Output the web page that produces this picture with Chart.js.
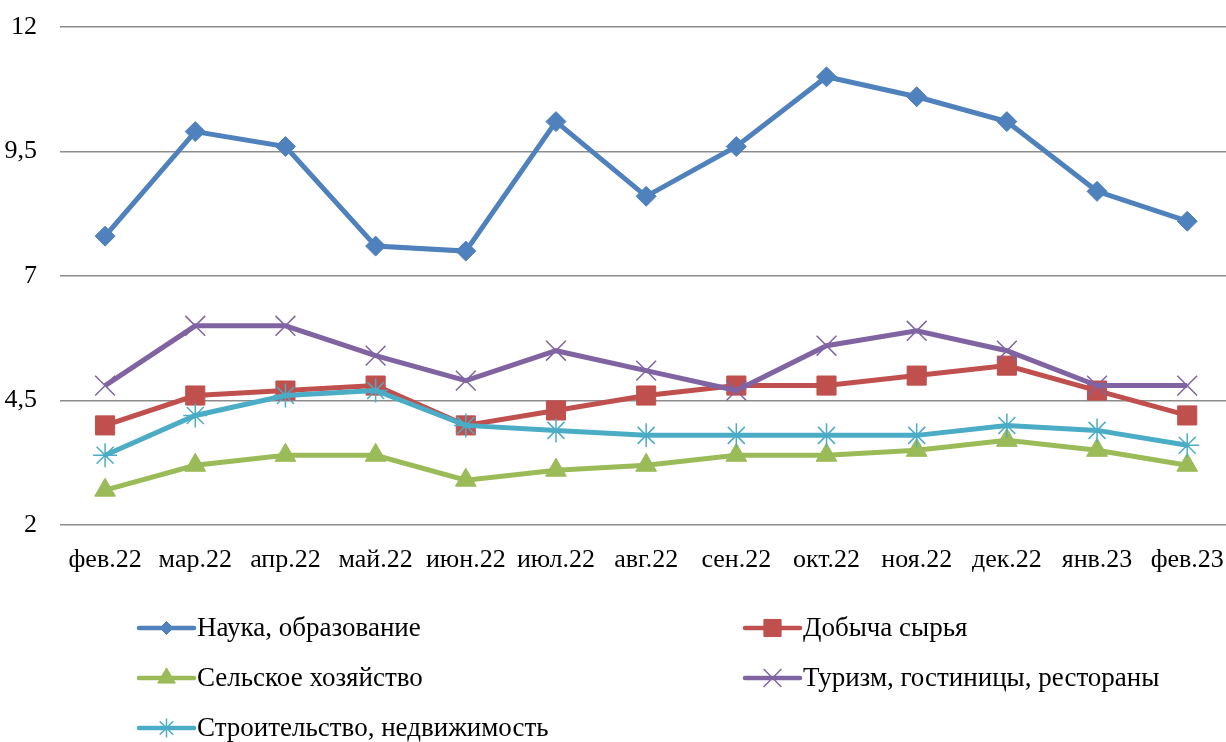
<!DOCTYPE html>
<html>
<head>
<meta charset="utf-8">
<script src="https://cdn.jsdelivr.net/npm/chart.js@4/dist/chart.umd.min.js"></script>
<style>
  html, body { margin: 0; padding: 0; background: #fff; overflow: hidden; }
  #wrap { width: 1226px; height: 742px; position: relative; }
</style>
</head>
<body>
<div id="wrap"><canvas id="c"></canvas></div>
<script>
// ---- data ----
const categories = ["фев.22","мар.22","апр.22","май.22","июн.22","июл.22","авг.22","сен.22","окт.22","ноя.22","дек.22","янв.23","фев.23"];
const seriesNames = ["Наука, образование","Добыча сырья","Сельское хозяйство","Туризм, гостиницы, рестораны","Строительство, недвижимость"];
const nauka     = [7.8, 9.9, 9.6, 7.6, 7.5, 10.1, 8.6, 9.6, 11.0, 10.6, 10.1, 8.7, 8.1];
const dobycha   = [4.0, 4.6, 4.7, 4.8, 4.0, 4.3, 4.6, 4.8, 4.8, 5.0, 5.2, 4.7, 4.2];
const selskoe   = [2.7, 3.2, 3.4, 3.4, 2.9, 3.1, 3.2, 3.4, 3.4, 3.5, 3.7, 3.5, 3.2];
const turizm    = [4.8, 6.0, 6.0, 5.4, 4.9, 5.5, 5.1, 4.7, 5.6, 5.9, 5.5, 4.8, 4.8];
const stroitel  = [3.4, 4.2, 4.6, 4.7, 4.0, 3.9, 3.8, 3.8, 3.8, 3.8, 4.0, 3.9, 3.6];
const yTicks    = [2, 4.5, 7, 9.5, 12];

const FONT = '"Liberation Serif", "Times New Roman", serif';
const seriesValues = [nauka, dobycha, selskoe, turizm, stroitel];
const colors = ["#4F81BD", "#C0504D", "#9BBB59", "#8064A2", "#4BACC6"];
const styles = [
  { pointStyle: "rectRot",  radius: 10, bw: 1,   legendScale: 0.65 },
  { pointStyle: "rect",     radius: 13.5, bw: 1, legendScale: 0.9 },
  { pointStyle: "triangle", radius: 12, bw: 1,   legendScale: 0.85 },
  { pointStyle: "crossRot", radius: 14, bw: 1.5, legendScale: 0.9 },
  { pointStyle: "star",     radius: 12, bw: 1.5, legendScale: 0.8 }
];

const datasets = seriesValues.map((vals, i) => ({
  label: seriesNames[i],
  data: vals.map((v, k) => ({ x: k, y: v })),
  borderColor: colors[i],
  backgroundColor: colors[i],
  pointBackgroundColor: colors[i],
  pointBorderColor: colors[i],
  borderWidth: 5,
  pointStyle: styles[i].pointStyle,
  pointRadius: styles[i].radius,
  pointHoverRadius: styles[i].radius,
  pointBorderWidth: styles[i].bw,
  tension: 0,
  clip: false,
  order: 4 - i
}));

const legendPlugin = {
  id: "gridLegend",
  afterDraw(chart) {
    const ctx = chart.ctx;
    ctx.save();
    chart.data.datasets.forEach((ds, i) => {
      const col = i % 2, row = Math.floor(i / 2);
      const x0 = col === 0 ? 139 : 745;
      const x1 = x0 + 55;
      const y = 628 + row * 50;
      ctx.strokeStyle = ds.borderColor;
      ctx.lineWidth = 4.5;
      ctx.lineCap = "round";
      ctx.beginPath();
      ctx.moveTo(x0, y);
      ctx.lineTo(x1, y);
      ctx.stroke();
      ctx.fillStyle = ds.borderColor;
      ctx.strokeStyle = ds.borderColor;
      ctx.lineWidth = styles[i].bw;
      ctx.lineCap = "butt";
      Chart.helpers.drawPoint(ctx, {
        pointStyle: styles[i].pointStyle,
        radius: styles[i].radius * styles[i].legendScale,
        rotation: 0,
        borderWidth: styles[i].bw
      }, (x0 + x1) / 2, y);
      ctx.fillStyle = "#000";
      ctx.font = "27px " + FONT;
      ctx.textBaseline = "middle";
      ctx.textAlign = "left";
      ctx.fillText(ds.label, x1 + 3, y + 1);
    });
    ctx.restore();
  }
};

new Chart(document.getElementById("c"), {
  type: "line",
  data: { datasets },
  options: {
    responsive: true,
    maintainAspectRatio: false,
    animation: false,
    devicePixelRatio: 1,
    layout: { autoPadding: false, padding: { left: 5, right: 0, top: 27, bottom: 147 } },
    plugins: {
      legend: { display: false },
      tooltip: { enabled: false }
    },
    scales: {
      x: {
        type: "linear",
        min: -0.5,
        max: 12.43,
        grid: { display: false },
        border: { display: false },
        afterBuildTicks(scale) {
          scale.ticks = categories.map((c, k) => ({ value: k }));
        },
        afterFit(scale) {
          scale.height = 70;
          scale.paddingLeft = 0;
          scale.paddingRight = 0;
        },
        ticks: {
          autoSkip: false,
          maxRotation: 0,
          padding: 12,
          color: "#000",
          font: { family: FONT, size: 26 },
          callback: (v) => categories[v]
        }
      },
      y: {
        min: 2,
        max: 12,
        grid: { color: "#8c8c8c", lineWidth: 1.5, drawTicks: false },
        border: { display: false },
        afterBuildTicks(scale) {
          scale.ticks = yTicks.map(v => ({ value: v }));
        },
        afterFit(scale) {
          scale.width = 55;
          scale.paddingTop = 0;
          scale.paddingBottom = 0;
        },
        ticks: {
          padding: 23,
          color: "#000",
          font: { family: FONT, size: 26 },
          callback: (v) => String(v).replace(".", ",")
        }
      }
    }
  },
  plugins: [legendPlugin]
});
</script>
</body>
</html>
